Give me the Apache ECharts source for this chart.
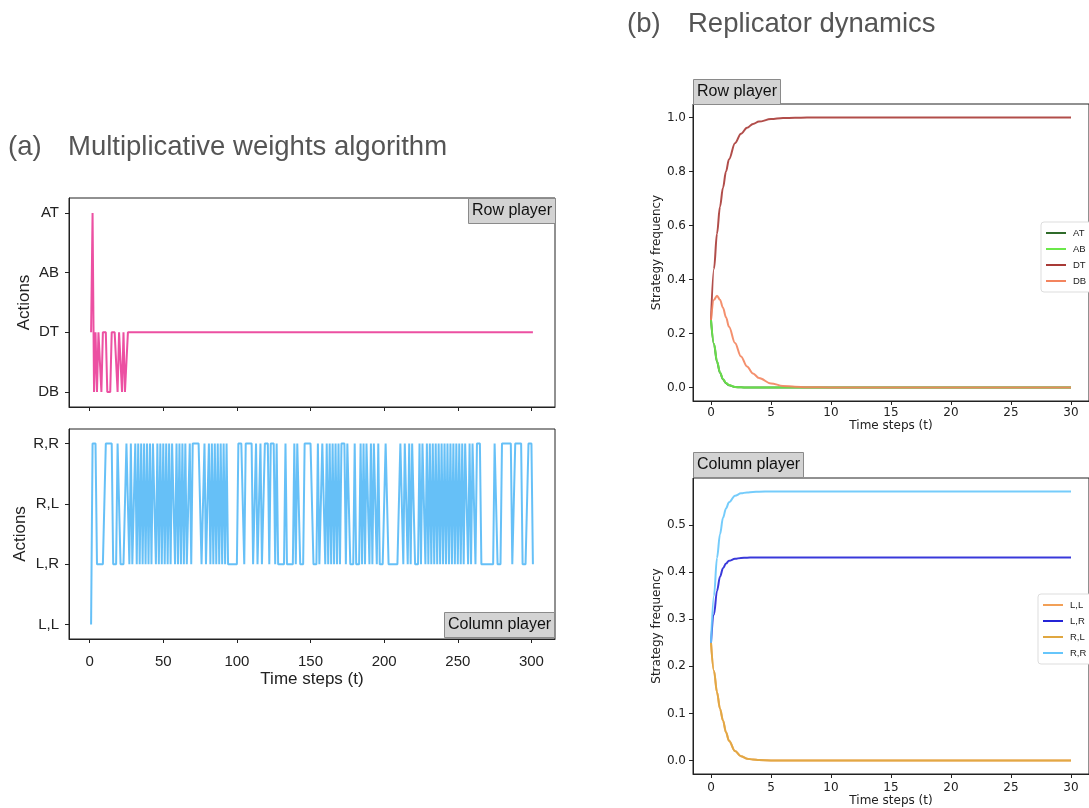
<!DOCTYPE html>
<html>
<head>
<meta charset="utf-8">
<script src="https://cdn.jsdelivr.net/npm/echarts@6/dist/echarts.min.js"></script>
<style>
  html, body { margin: 0; padding: 0; background: #fff; }
  #main { width: 1089px; height: 808px; }
</style>
</head>
<body>
<div id="main"></div>
<script>
var myChart = echarts.init(document.getElementById('main'));

// (a) multiplicative weights: action index per time step
var rowLabels = ['DB', 'DT', 'AB', 'AT'];
var colLabels = ['L,L', 'L,R', 'R,L', 'R,R'];
var rowSteps = [1, 2, 3, 4, 5, 6, 7, 8, 9, 10, 11, 12, 13, 14, 15, 16, 17, 18, 19, 20, 21, 22, 23, 24, 25, 26, 301];
var rowActions = [1, 3, 0, 1, 0, 1, 1, 0, 1, 1, 1, 0, 0, 0, 1, 1, 1, 1, 0, 1, 1, 0, 1, 0, 0, 1, 1];
var colActions = [
  0, 3, 3, 3, 1, 1, 1, 1, 1, 1,
  3, 3, 3, 3, 3, 1, 1, 1, 3, 3,
  1, 1, 1, 1, 3, 3, 1, 3, 1, 1,
  3, 1, 3, 1, 3, 1, 3, 1, 3, 1,
  3, 1, 3, 3, 1, 3, 1, 3, 1, 3,
  1, 3, 1, 3, 1, 3, 3, 1, 3, 1,
  3, 1, 3, 1, 3, 1, 1, 3, 1, 3,
  3, 3, 3, 3, 3, 1, 1, 3, 1, 1,
  3, 1, 3, 1, 3, 1, 3, 1, 3, 1,
  3, 1, 3, 1, 1, 1, 1, 1, 1, 1,
  3, 3, 3, 3, 1, 3, 3, 3, 3, 3,
  1, 1, 3, 1, 1, 3, 1, 1, 3, 3,
  3, 1, 3, 3, 3, 1, 3, 1, 1, 1,
  1, 1, 3, 1, 1, 1, 1, 1, 3, 1,
  3, 3, 1, 1, 1, 3, 3, 3, 3, 3,
  3, 1, 1, 1, 3, 1, 1, 3, 3, 1,
  3, 1, 3, 1, 3, 1, 3, 1, 3, 1,
  3, 3, 3, 1, 3, 3, 1, 1, 1, 3,
  1, 1, 1, 3, 1, 3, 1, 3, 3, 1,
  3, 1, 3, 3, 1, 3, 1, 1, 1, 1,
  3, 3, 1, 1, 1, 1, 1, 1, 1, 1,
  3, 3, 1, 3, 3, 1, 3, 1, 3, 3,
  1, 1, 1, 3, 1, 3, 3, 1, 3, 1,
  3, 1, 3, 1, 3, 1, 3, 1, 3, 1,
  3, 1, 3, 1, 3, 1, 3, 1, 3, 1,
  3, 1, 3, 1, 3, 3, 1, 3, 1, 3,
  3, 1, 3, 3, 3, 1, 1, 1, 1, 1,
  1, 1, 1, 1, 3, 3, 1, 1, 1, 3,
  3, 3, 3, 3, 3, 3, 1, 1, 3, 3,
  3, 3, 3, 1, 1, 1, 1, 3, 3, 3,
  1
];

// (b) replicator dynamics
var repTime = [0, 0.25, 0.5, 0.75, 1, 1.25, 1.5, 2, 2.5, 3, 3.5, 4, 5, 6, 7, 8, 10, 15, 20, 25, 30];
var rowAT = [0.25, 0.16, 0.095, 0.055, 0.03, 0.016, 0.008, 0.002, 0.0005, 0, 0, 0, 0, 0, 0, 0, 0, 0, 0, 0, 0];
var rowAB = [0.25, 0.162, 0.097, 0.056, 0.031, 0.017, 0.009, 0.002, 0.0005, 0, 0, 0, 0, 0, 0, 0, 0, 0, 0, 0, 0];
var rowDT = [0.25, 0.44, 0.57, 0.67, 0.74, 0.80, 0.845, 0.905, 0.94, 0.962, 0.976, 0.985, 0.994, 0.998, 0.999, 1, 1, 1, 1, 1, 1];
var rowDB = [0.25, 0.325, 0.34, 0.325, 0.295, 0.26, 0.225, 0.165, 0.115, 0.078, 0.052, 0.035, 0.015, 0.006, 0.0025, 0.001, 0, 0, 0, 0, 0];
var colLL = [0.25, 0.19, 0.145, 0.11, 0.085, 0.06, 0.042, 0.02, 0.009, 0.004, 0.002, 0.001, 0.0003, 0, 0, 0, 0, 0, 0, 0, 0];
var colLR = [0.25, 0.31, 0.36, 0.39, 0.408, 0.418, 0.424, 0.428, 0.43, 0.4305, 0.431, 0.431, 0.431, 0.431, 0.431, 0.431, 0.431, 0.431, 0.431, 0.431, 0.431];
var colRL = [0.25, 0.19, 0.145, 0.11, 0.085, 0.06, 0.042, 0.02, 0.009, 0.004, 0.002, 0.001, 0.0003, 0, 0, 0, 0, 0, 0, 0, 0];
var colRR = [0.25, 0.35, 0.43, 0.48, 0.515, 0.535, 0.548, 0.562, 0.567, 0.569, 0.57, 0.5705, 0.571, 0.571, 0.571, 0.571, 0.571, 0.571, 0.571, 0.571, 0.571];

function pairs(xs, ys) {
  return ys.map(function (v, i) { return [xs[i], v]; });
}

var font = 'Helvetica, Arial, "Liberation Sans", sans-serif';
var dfont = '"DejaVu Sans", sans-serif';

function boxLabel(text, left, top) {
  return {
    text: text, left: left, top: top,
    backgroundColor: '#d3d3d3', borderColor: '#8a8a8a', borderWidth: 1,
    padding: [5, 4, 5, 4],
    textStyle: { fontFamily: font, fontSize: 16, fontWeight: 'normal', color: '#111' }
  };
}

function xAx(grid, min, max, ticks, showLabel, name, nameGap, fs, nfs, ff, margin) {
  return {
    type: 'value', gridIndex: grid, min: min, max: max,
    name: name, nameLocation: 'middle', nameGap: nameGap,
    nameTextStyle: { fontFamily: ff, fontSize: nfs, color: '#222' },
    axisLine: { show: true, onZero: false, lineStyle: { color: '#222' } },
    axisTick: { show: true, inside: false, length: 4, customValues: ticks, lineStyle: { color: '#222' } },
    axisLabel: { show: showLabel, customValues: ticks, fontFamily: ff, fontSize: fs, color: '#222', margin: margin },
    splitLine: { show: false }
  };
}

function yAx(grid, min, max, ticks, fmt, name, nameGap, fs, nfs, ff, margin) {
  return {
    type: 'value', gridIndex: grid, min: min, max: max,
    name: name, nameLocation: 'middle', nameGap: nameGap,
    nameTextStyle: { fontFamily: ff, fontSize: nfs, color: '#222' },
    axisLine: { show: true, onZero: false, lineStyle: { color: '#222' } },
    axisTick: { show: true, inside: false, length: 4, customValues: ticks, lineStyle: { color: '#222' } },
    axisLabel: { customValues: ticks, formatter: fmt, fontFamily: ff, fontSize: fs, color: '#222', margin: margin },
    splitLine: { show: false }
  };
}

function curve(name, grid, xs, ys, color) {
  return {
    name: name, type: 'line', xAxisIndex: grid, yAxisIndex: grid,
    data: pairs(xs, ys), showSymbol: false, smooth: 0.35, smoothMonotone: 'x',
    lineStyle: { color: color, width: 2, opacity: 0.9 }, itemStyle: { color: color }
  };
}

var gridStyle = { show: true, borderColor: '#222', borderWidth: 1, backgroundColor: '#fff' };
var bigTitle = { fontFamily: font, fontSize: 27.5, fontWeight: 'normal', color: '#555' };

var option = {
  animation: false,
  backgroundColor: '#fff',
  title: [
    { text: '(a)', left: 3, top: 128, textStyle: bigTitle },
    { text: 'Multiplicative weights algorithm', left: 63, top: 128, textStyle: bigTitle },
    { text: '(b)', left: 622, top: 5, textStyle: bigTitle },
    { text: 'Replicator dynamics', left: 683, top: 5, textStyle: bigTitle },
    boxLabel('Row player', 468, 198),
    boxLabel('Column player', 444, 612),
    boxLabel('Row player', 693, 79),
    boxLabel('Column player', 693, 452)
  ],
  legend: [
    {
      data: ['AT', 'AB', 'DT', 'DB'], left: 1041, top: 222, orient: 'vertical',
      icon: 'rect', itemWidth: 20, itemHeight: 2, itemGap: 6,
      padding: [6, 5, 6, 5], borderColor: '#ddd', borderWidth: 1, borderRadius: 3,
      backgroundColor: '#fff',
      textStyle: { fontFamily: font, fontSize: 9.5, color: '#222', padding: [0, 0, 0, 2] }
    },
    {
      data: ['L,L', 'L,R', 'R,L', 'R,R'], left: 1038, top: 594, orient: 'vertical',
      icon: 'rect', itemWidth: 20, itemHeight: 2, itemGap: 6,
      padding: [6, 5, 6, 5], borderColor: '#ddd', borderWidth: 1, borderRadius: 3,
      backgroundColor: '#fff',
      textStyle: { fontFamily: font, fontSize: 9.5, color: '#222', padding: [0, 0, 0, 2] }
    }
  ],
  grid: [
    Object.assign({ left: 69, top: 198, width: 486, height: 209 }, gridStyle),
    Object.assign({ left: 69, top: 429, width: 486, height: 210 }, gridStyle),
    Object.assign({ left: 693, top: 104, width: 399, height: 297 }, gridStyle),
    Object.assign({ left: 693, top: 478, width: 399, height: 296 }, gridStyle)
  ],
  xAxis: [
    xAx(0, -14, 316, [0, 50, 100, 150, 200, 250, 300], false, '', 0, 15, 17, font, 15),
    xAx(1, -14, 316, [0, 50, 100, 150, 200, 250, 300], true, 'Time steps (t)', 32, 15, 17, font, 15),
    xAx(2, -1.5, 31.5, [0, 5, 10, 15, 20, 25, 30], true, 'Time steps (t)', 15, 12, 12, dfont, 6),
    xAx(3, -1.5, 31.5, [0, 5, 10, 15, 20, 25, 30], true, 'Time steps (t)', 21, 12, 12, dfont, 8)
  ],
  yAxis: [
    yAx(0, -0.25, 3.25, [0, 1, 2, 3], function (v) { return rowLabels[Math.round(v)]; }, 'Actions', 36, 15, 17, font, 10),
    yAx(1, -0.24, 3.24, [0, 1, 2, 3], function (v) { return colLabels[Math.round(v)]; }, 'Actions', 36, 15, 17, font, 10),
    yAx(2, -0.05, 1.05, [0, 0.2, 0.4, 0.6, 0.8, 1.0], function (v) { return v.toFixed(1); }, 'Strategy frequency', 30, 12, 12, dfont, 7),
    yAx(3, -0.0286, 0.5996, [0, 0.1, 0.2, 0.3, 0.4, 0.5], function (v) { return v.toFixed(1); }, 'Strategy frequency', 30, 12, 12, dfont, 7)
  ],
  series: [
    {
      name: 'row', type: 'line', xAxisIndex: 0, yAxisIndex: 0,
      data: pairs(rowSteps, rowActions), showSymbol: false,
      lineStyle: { color: '#ea3d98', width: 2, opacity: 0.9 }
    },
    {
      name: 'col', type: 'line', xAxisIndex: 1, yAxisIndex: 1,
      data: colActions.map(function (v, i) { return [i + 1, v]; }), showSymbol: false,
      lineStyle: { color: '#55b9f6', width: 2, opacity: 0.9 }
    },
    curve('AT', 2, repTime, rowAT, '#2f6b2a'),
    curve('AB', 2, repTime, rowAB, '#6be84a'),
    curve('DT', 2, repTime, rowDT, '#a83a36'),
    curve('DB', 2, repTime, rowDB, '#f3845e'),
    curve('L,L', 3, repTime, colLL, '#f2a057'),
    curve('L,R', 3, repTime, colLR, '#2424d6'),
    curve('R,L', 3, repTime, colRL, '#e0a740'),
    curve('R,R', 3, repTime, colRR, '#66c6fb')
  ]
};
myChart.setOption(option);
</script>
</body>
</html>
